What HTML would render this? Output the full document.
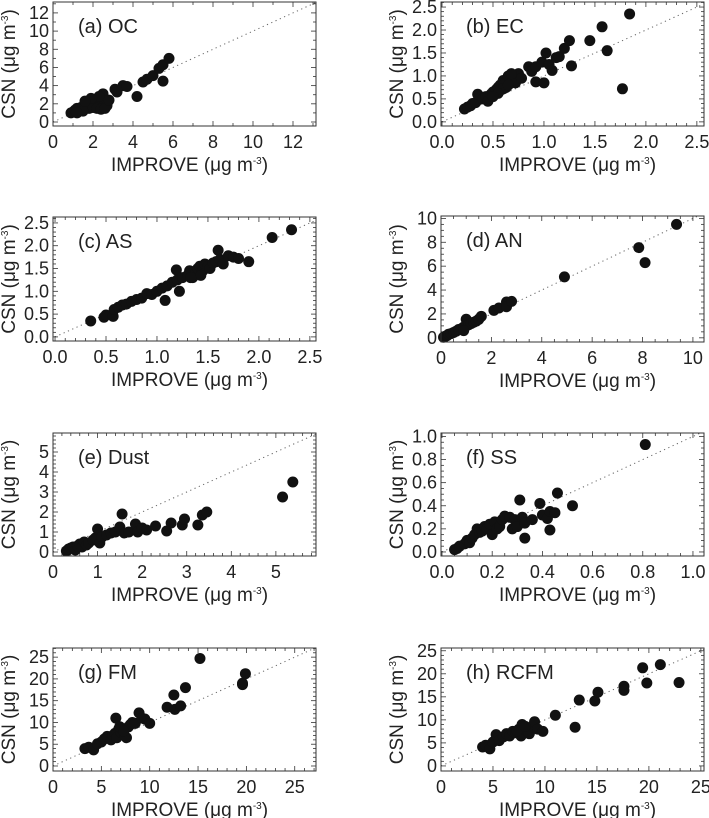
<!DOCTYPE html>
<html><head><meta charset="utf-8"><style>
html,body{margin:0;padding:0;background:#fff;}
svg{display:block;font-family:"Liberation Sans",sans-serif;}
</style></head><body>
<svg id="fig" width="709" height="818" viewBox="0 0 709 818" xmlns="http://www.w3.org/2000/svg"></svg>
<script>
const ocData=[[0.9,1.0],[1.0,1.1],[1.1,1.3],[1.2,1.5],[1.3,1.4],[1.4,1.6],[1.5,1.7],[1.6,1.8],[1.7,2.0],[1.8,2.2],[1.9,2.4],[2.0,2.1],[2.1,1.9],[2.2,2.5],[2.3,2.3],[2.4,2.0],[2.5,2.6],[2.6,2.2],[2.7,1.8],[1.8,1.5],[2.0,1.6],[2.2,1.5],[2.4,1.4],[2.6,1.5],[1.5,1.2],[1.2,1.0],[2.5,3.1],[2.3,2.8],[1.9,2.6],[1.6,2.3],[2.8,2.4],[3.1,3.6],[3.2,3.3],[3.5,4.0],[3.7,3.9],[4.2,2.8],[4.5,4.4],[4.7,4.7],[5.0,5.1],[5.3,5.9],[5.5,6.3],[5.8,7.0],[5.5,4.5]];
const ecData=[[0.22,0.28],[0.25,0.32],[0.28,0.35],[0.3,0.4],[0.33,0.42],[0.35,0.6],[0.4,0.5],[0.43,0.55],[0.45,0.45],[0.48,0.6],[0.5,0.65],[0.53,0.7],[0.55,0.75],[0.57,0.8],[0.58,0.7],[0.6,0.9],[0.62,0.85],[0.63,0.75],[0.65,1.0],[0.67,0.9],[0.7,0.95],[0.72,0.85],[0.75,1.05],[0.78,0.95],[0.6,0.72],[0.65,0.8],[0.68,1.05],[0.85,1.2],[0.88,1.1],[0.92,1.2],[0.92,0.87],[0.98,1.3],[1.0,0.85],[1.02,1.5],[1.05,1.25],[1.08,1.12],[1.12,1.4],[1.15,1.42],[1.2,1.6],[1.25,1.77],[1.27,1.22],[1.45,1.77],[1.57,2.07],[1.62,1.55],[1.77,0.72],[1.84,2.35],[0.55,0.62],[0.5,0.55]];
const asData=[[0.35,0.35],[0.48,0.43],[0.5,0.48],[0.57,0.45],[0.58,0.6],[0.62,0.65],[0.66,0.7],[0.7,0.72],[0.75,0.78],[0.8,0.82],[0.85,0.85],[0.9,0.95],[0.95,0.93],[1.0,1.0],[1.05,1.07],[1.08,0.8],[1.1,1.12],[1.15,1.2],[1.19,1.47],[1.22,1.0],[1.2,1.25],[1.25,1.3],[1.3,1.35],[1.32,1.45],[1.35,1.3],[1.38,1.4],[1.4,1.5],[1.42,1.55],[1.45,1.45],[1.47,1.6],[1.5,1.55],[1.52,1.5],[1.55,1.62],[1.58,1.65],[1.6,1.9],[1.62,1.7],[1.65,1.6],[1.7,1.78],[1.75,1.75],[1.8,1.72],[1.9,1.65],[2.13,2.18],[2.32,2.35],[1.43,1.35],[1.33,1.3]];
const anData=[[0.1,0.05],[0.15,0.1],[0.2,0.15],[0.25,0.2],[0.3,0.3],[0.4,0.35],[0.5,0.45],[0.6,0.55],[0.7,0.7],[0.8,0.75],[0.9,0.9],[1.0,1.55],[1.0,1.0],[1.1,1.1],[1.2,1.2],[1.3,1.3],[1.4,1.4],[1.5,1.55],[1.6,1.8],[0.9,0.6],[2.1,2.3],[2.3,2.5],[2.6,3.0],[2.6,2.6],[2.8,3.05],[4.9,5.1],[7.85,7.55],[8.1,6.3],[9.35,9.5]];
const dustData=[[0.3,0.05],[0.35,0.15],[0.4,0.2],[0.45,0.25],[0.5,0.1],[0.55,0.3],[0.6,0.4],[0.65,0.25],[0.7,0.5],[0.75,0.35],[0.8,0.45],[0.9,0.6],[0.95,0.7],[1.0,1.15],[1.05,0.45],[1.1,0.75],[1.2,0.85],[1.3,0.95],[1.4,1.0],[1.5,1.25],[1.55,1.9],[1.6,0.95],[1.7,1.0],[1.85,1.4],[1.9,1.0],[2.0,1.2],[2.1,1.1],[2.3,1.3],[2.55,1.05],[2.65,1.45],[2.9,1.35],[2.95,1.65],[3.25,1.35],[3.35,1.85],[3.45,2.0],[5.15,2.75],[5.38,3.5]];
const ssData=[[0.05,0.02],[0.06,0.03],[0.07,0.05],[0.09,0.07],[0.1,0.1],[0.11,0.08],[0.12,0.12],[0.13,0.15],[0.14,0.2],[0.15,0.17],[0.16,0.18],[0.17,0.22],[0.18,0.2],[0.19,0.24],[0.2,0.15],[0.21,0.26],[0.22,0.2],[0.23,0.22],[0.24,0.28],[0.25,0.31],[0.27,0.3],[0.28,0.2],[0.29,0.28],[0.3,0.22],[0.31,0.45],[0.32,0.3],[0.33,0.12],[0.33,0.25],[0.36,0.28],[0.39,0.42],[0.4,0.32],[0.42,0.29],[0.43,0.19],[0.43,0.35],[0.45,0.34],[0.46,0.51],[0.52,0.4],[0.81,0.93]];
const fmData=[[3.3,4.0],[3.7,4.3],[4.2,3.7],[4.6,5.1],[5.0,5.5],[5.3,6.2],[5.6,6.8],[6.0,6.0],[6.2,7.0],[6.4,7.5],[6.5,11.0],[6.6,6.5],[6.8,8.5],[7.0,7.8],[7.2,8.2],[7.4,7.0],[7.6,6.5],[7.8,9.0],[8.0,9.5],[8.2,10.0],[8.5,9.8],[8.9,12.2],[9.2,11.0],[9.5,10.8],[10.0,9.8],[11.8,13.5],[12.5,16.3],[12.6,13.0],[13.2,13.8],[13.7,18.0],[15.2,24.7],[19.6,18.7],[19.6,19.0],[19.9,21.2],[6.9,9.0],[7.3,8.0]];
const rcfmData=[[4.0,4.1],[4.3,4.5],[4.7,3.7],[5.0,5.2],[5.3,6.8],[5.6,5.5],[6.0,6.3],[6.3,7.0],[6.6,6.5],[6.9,7.5],[7.2,7.2],[7.5,8.0],[7.7,6.5],[7.8,9.0],[8.0,8.0],[8.3,7.5],[8.5,7.0],[8.8,8.5],[9.0,9.6],[9.3,8.0],[9.8,7.5],[11.0,11.0],[12.9,8.4],[13.3,14.3],[14.8,14.1],[15.1,16.0],[17.6,17.3],[17.6,16.4],[19.4,21.3],[19.8,18.0],[21.1,22.0],[22.9,18.1],[7.3,7.6],[8.1,8.6]];
const titles=["(a) OC","(b) EC","(c) AS","(d) AN","(e) Dust","(f) SS","(g) FM","(h) RCFM"];
const ocTicks=["0","2","4","6","8","10","12"];
const ecTicks=["0.0","0.5","1.0","1.5","2.0","2.5"];
const anTicks=["0","2","4","6","8","10"];
const dustTicks=["0","1","2","3","4","5"];
const ssTicks=["0.0","0.2","0.4","0.6","0.8","1.0"];
const fmTicks=["0","5","10","15","20","25"];

const NS="http://www.w3.org/2000/svg";
const svg=document.getElementById('fig');
function mk(tag,attrs,parent){const e=document.createElementNS(NS,tag);for(const k in attrs)e.setAttribute(k,attrs[k]);(parent||svg).appendChild(e);return e;}

const panels=[
 {id:'oc',data:ocData,ticks:ocTicks,box:[53,2,316,126],xr:[0,13.15],yr:[-0.44,13.2],minor:1},
 {id:'ec',data:ecData,ticks:ecTicks,box:[441,2,704,126],xr:[-0.01,2.57],yr:[-0.09,2.61],minor:0.1},
 {id:'as',data:asData,ticks:ecTicks,box:[53,217,316,341],xr:[-0.02,2.56],yr:[-0.09,2.63],minor:0.1},
 {id:'an',data:anData,ticks:anTicks,box:[441,216,704,342],xr:[0,10.44],yr:[-0.35,10.2],minor:0.5},
 {id:'dust',data:dustData,ticks:dustTicks,box:[53,433,316,556],xr:[0,5.9],yr:[-0.2,5.95],minor:0.2},
 {id:'ss',data:ssData,ticks:ssTicks,box:[441,433,704,556],xr:[-0.004,1.044],yr:[-0.035,1.03],minor:0.05},
 {id:'fm',data:fmData,ticks:fmTicks,box:[53,648,316,771],xr:[0,27.2],yr:[-1.15,27.1],minor:1},
 {id:'rcfm',data:rcfmData,ticks:fmTicks,box:[441,648,704,771],xr:[0,25.3],yr:[-1.1,25.6],minor:1}
];

panels.forEach((p,i)=>{
  const [x0,y0,x1,y1]=p.box;
  const sx=v=>x0+(v-p.xr[0])/(p.xr[1]-p.xr[0])*(x1-x0);
  const sy=v=>y1-(v-p.yr[0])/(p.yr[1]-p.yr[0])*(y1-y0);
  const g=mk('g',{});
  
  
  const clipId='clip'+i;
  const cp=mk('clipPath',{id:clipId},g);mk('rect',{x:x0,y:y0,width:x1-x0,height:y1-y0},cp);
  const m=Math.min(p.xr[1],p.yr[1]);
  const ln=mk('line',{x1:sx(0),y1:sy(0),x2:sx(m),y2:sy(m),stroke:'#666','stroke-width':1,'stroke-dasharray':'1.2,3.5','clip-path':'url(#'+clipId+')'},g);
  
  
  const tv=p.ticks.map(Number);
  const step=tv[1]-tv[0];
  for(let v=0;v<=Math.max(p.xr[1],p.yr[1])+1e-9;v+=p.minor){
    const isMaj=Math.abs(v/step-Math.round(v/step))<1e-6;
    const L=isMaj?5:3;
    if(v<=p.xr[1]&&v>=p.xr[0]){const X=sx(v);
      mk('line',{x1:X,y1:y1,x2:X,y2:y1-L,stroke:'#333','stroke-width':0.8},g);
      mk('line',{x1:X,y1:y0,x2:X,y2:y0+L,stroke:'#333','stroke-width':0.8},g);}
    if(v<=p.yr[1]&&v>=p.yr[0]){const Y=sy(v);
      mk('line',{x1:x0,y1:Y,x2:x0+L,y2:Y,stroke:'#333','stroke-width':0.8},g);
      mk('line',{x1:x1,y1:Y,x2:x1-L,y2:Y,stroke:'#333','stroke-width':0.8},g);}
  }
  p.ticks.forEach(t=>{
    const v=Number(t);
    if(v<=p.xr[1]+0.01){const tx=mk('text',{x:sx(v),y:y1+22,'font-size':18,'text-anchor':'middle',fill:'#222'},g);tx.textContent=t;
      
      }
    if(v<=p.yr[1]+0.01){const ty=mk('text',{x:x0-4,y:sy(v)+6,'font-size':18,'text-anchor':'end',fill:'#222'},g);ty.textContent=t;
      
      }
  });
  p.data.forEach(d=>{
    const c=mk('circle',{cx:sx(d[0]),cy:sy(d[1]),r:5.5,fill:'#111'},g);
    
    
  });
  mk('rect',{x:x0,y:y0,width:x1-x0,height:y1-y0,fill:'none',stroke:'#333','stroke-width':1},g);
  const tt=mk('text',{x:x0+25,y:y0+31,'font-size':20,fill:'#222'},g);tt.textContent=titles[i];
  
  
  const xt=mk('text',{x:(x0+x1)/2+5,y:y1+45,'font-size':19,'text-anchor':'middle',fill:'#222'},g);
  xt.innerHTML='IMPROVE (μg m<tspan dy="-7" font-size="10">-3</tspan><tspan dy="7">)</tspan>';
  
  
  const yt=mk('text',{x:0,y:0,'font-size':19,'text-anchor':'middle',fill:'#222',transform:'translate('+(x0-38)+','+((y0+y1)/2)+') rotate(-90)'},g);
  yt.innerHTML='CSN (μg m<tspan dy="-7" font-size="10">-3</tspan><tspan dy="7">)</tspan>';
  
  
});
</script>
</body></html>
